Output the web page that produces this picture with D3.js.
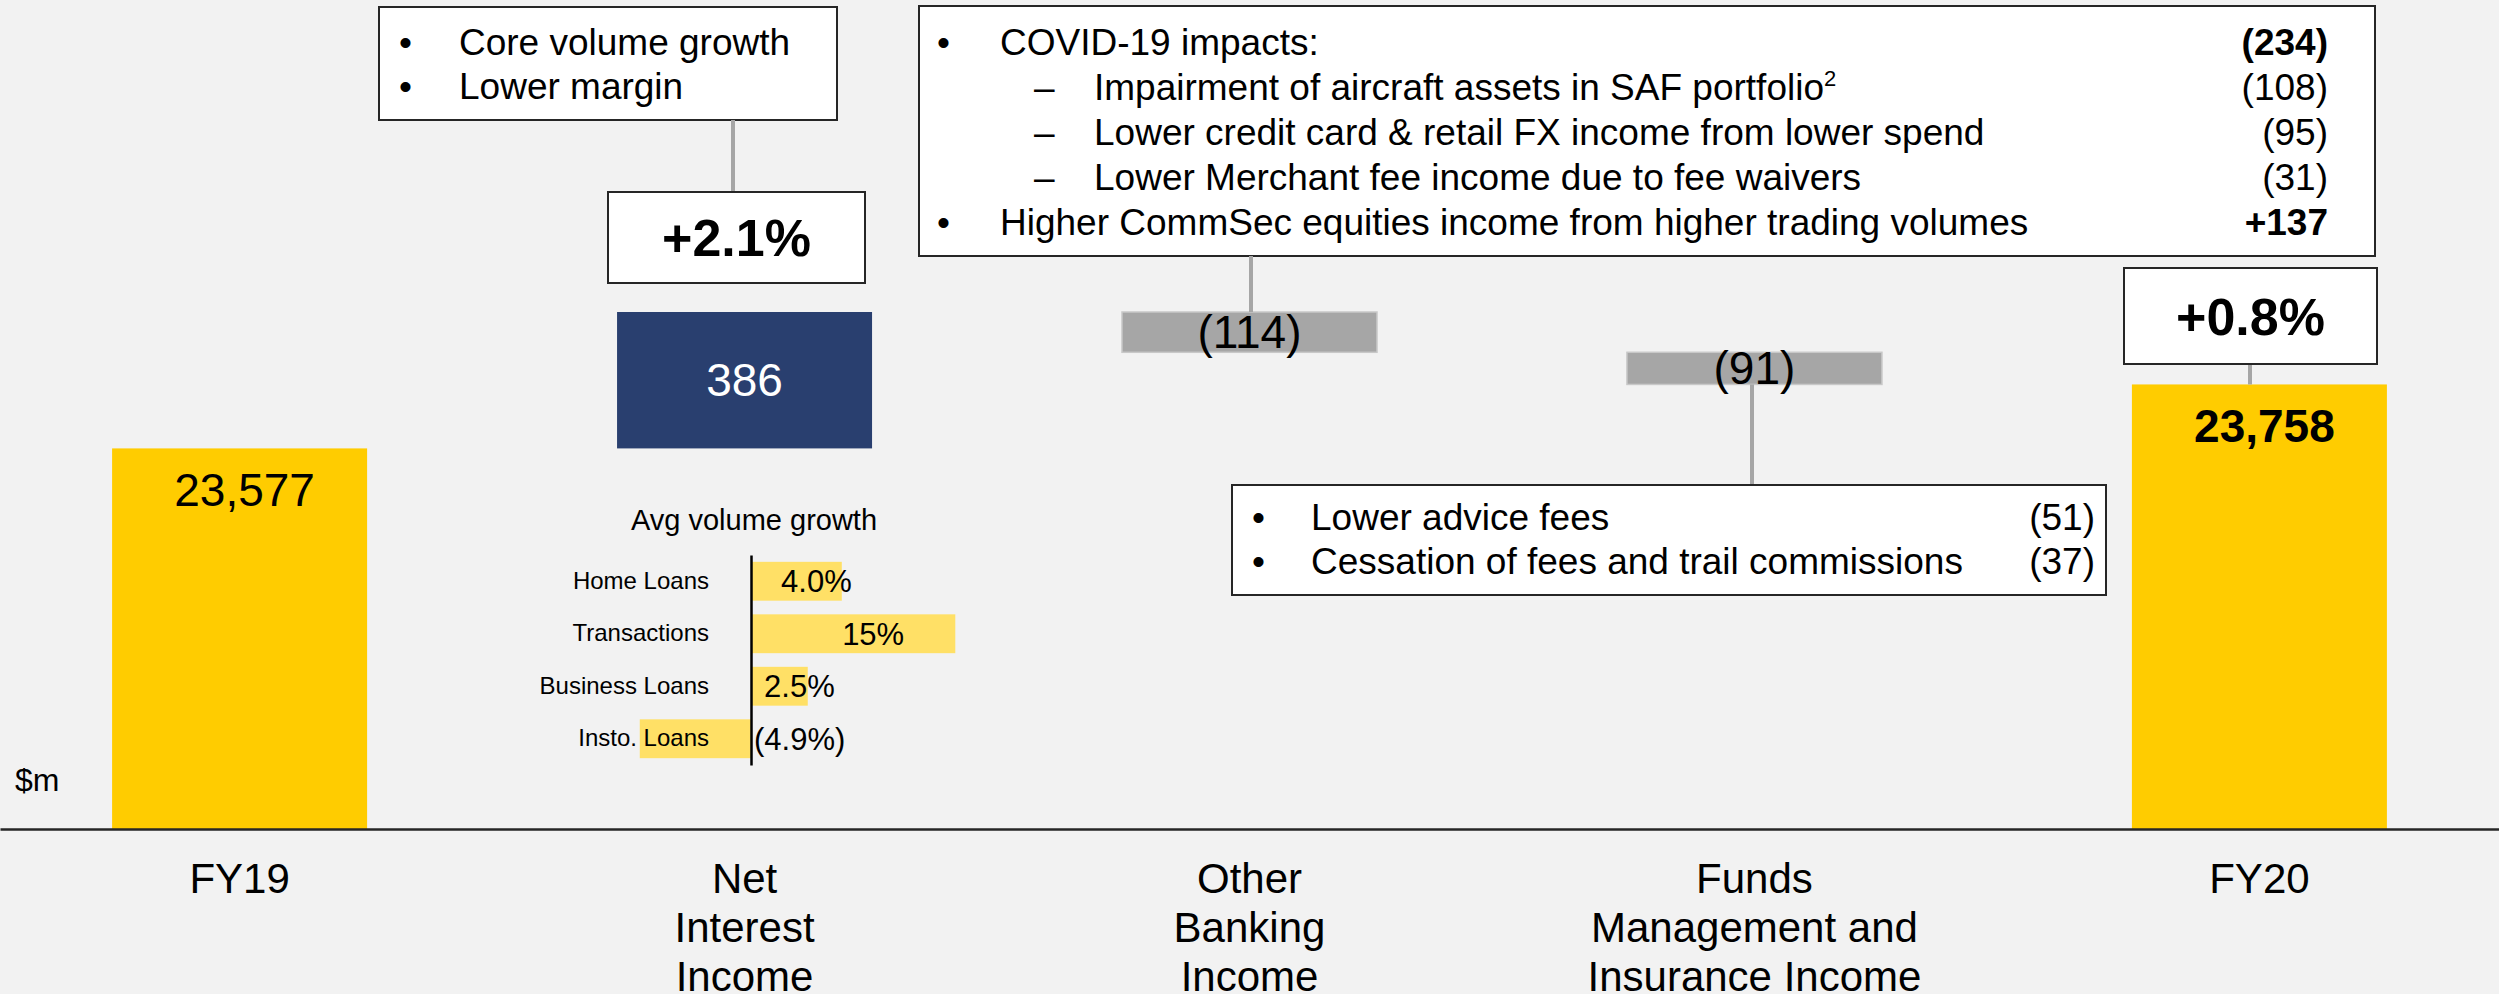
<!DOCTYPE html>
<html>
<head>
<meta charset="utf-8">
<script src="https://cdn.jsdelivr.net/npm/d3@7"></script>
<style>
    body { margin: 0; background: #f2f2f2; }
    svg { display: block; font-family: "Liberation Sans", Arial, sans-serif; }
</style>
</head>
<body>
<div id="container"></div>
<script>
// Canvas size
const width = 2499;
const height = 994;

// Waterfall data ($m)
const categories = ["FY19", "Net Interest Income", "Other Banking Income", "Funds Management and Insurance Income", "FY20"];
const axisLabels = [["FY19"], ["Net", "Interest", "Income"], ["Other", "Banking", "Income"], ["Funds", "Management and", "Insurance Income"], ["FY20"]];
const values = [23577, 386, -114, -91, 23758];
const barKinds = ["total", "up", "down", "down", "total"];
const valueLabels = ["23,577", "386", "(114)", "(91)", "23,758"];
const growthLabels = ["+2.1%", "+0.8%"];

// Inset: average volume growth (%)
const volCategories = ["Home Loans", "Transactions", "Business Loans", "Insto. Loans"];
const volGrowth = [4.0, 15, 2.5, -4.9];
const volLabels = ["4.0%", "15%", "2.5%", "(4.9%)"];

// Commentary
const niiNotes = ["Core volume growth", "Lower margin"];
const obiNotes = [
    { text: "COVID-19 impacts:", value: "(234)", level: 0, bold: true },
    { text: "Impairment of aircraft assets in SAF portfolio", sup: "2", value: "(108)", level: 1 },
    { text: "Lower credit card & retail FX income from lower spend", value: "(95)", level: 1 },
    { text: "Lower Merchant fee income due to fee waivers", value: "(31)", level: 1 },
    { text: "Higher CommSec equities income from higher trading volumes", value: "+137", level: 0, bold: true }
];
const fmiNotes = [
    { text: "Lower advice fees", value: "(51)" },
    { text: "Cessation of fees and trail commissions", value: "(37)" }
];

// Colours
const colors = {
    total: "#ffcc00",
    up: "#293f6f",
    down: "#a6a6a6",
    inset: "#ffe066",
    line: "#a6a6a6",
    border: "#262626"
};

const svg = d3.select("#container")
    .append("svg")
    .attr("width", width)
    .attr("height", height);

svg.append("rect")
    .attr("width", width)
    .attr("height", height)
    .attr("fill", "#f2f2f2");

// Work out the floating bar extents
let running = 0;
const bars = values.map((v, i) => {
    let d;
    if (barKinds[i] == "total") {
        d = { cat: categories[i], kind: "total", top: v, bottom: null };
        running = v;
    } else {
        d = { cat: categories[i], kind: barKinds[i], top: Math.max(running, running + v), bottom: Math.min(running, running + v) };
        running += v;
    }
    d.label = valueLabels[i];
    return d;
});

const x = d3.scaleBand()
    .domain(categories)
    .range([0, width])
    .paddingInner(0.495)
    .paddingOuter(0.222);

const y = d3.scaleLinear()
    .domain([22500, d3.max(bars, d => d.top)])
    .range([829, 312]);

bars.forEach(d => { if (d.bottom === null) d.bottom = y.domain()[0]; });

// Bars
svg.append("g")
    .selectAll("rect")
    .data(bars)
    .enter()
    .append("rect")
    .attr("x", d => x(d.cat))
    .attr("y", d => y(d.top))
    .attr("width", x.bandwidth())
    .attr("height", d => y(d.bottom) - y(d.top))
    .attr("fill", d => colors[d.kind])
    .attr("stroke", d => d.kind == "down" ? "#c8c8c8" : "none")
    .attr("stroke-width", 1.5);

// Bar value labels
svg.append("g")
    .selectAll("text")
    .data(bars)
    .enter()
    .append("text")
    .attr("x", d => x(d.cat) + x.bandwidth() / 2 + (d.kind == "total" ? 5 : 0))
    .attr("y", d => d.kind == "total" ? y(d.top) + 58 : (y(d.top) + y(d.bottom)) / 2)
    .attr("dy", d => d.kind == "total" ? 0 : "0.35em")
    .attr("text-anchor", "middle")
    .attr("font-size", 46)
    .attr("font-weight", (d, i) => i == bars.length - 1 ? "bold" : "normal")
    .attr("fill", d => d.kind == "up" ? "#fff" : "#000")
    .text(d => d.label);

// Category axis
const axis = svg.append("g")
    .attr("transform", `translate(0,${y.range()[0]})`)
    .call(d3.axisBottom(x).tickSize(0).tickSizeOuter(0));

axis.select(".domain")
    .attr("stroke", colors.border)
    .attr("stroke-width", 2.5);

axis.selectAll(".tick text")
    .attr("y", 64)
    .attr("dy", 0)
    .attr("font-size", 42)
    .attr("font-family", "Liberation Sans, Arial, sans-serif")
    .attr("fill", "#000")
    .text(null)
    .each(function (d, i) {
        const t = d3.select(this);
        axisLabels[i].forEach((line, j) => {
            t.append("tspan")
                .attr("x", 0)
                .attr("dy", j == 0 ? 0 : 49)
                .text(line);
        });
    });

svg.append("text")
    .attr("x", 15)
    .attr("y", 791)
    .attr("font-size", 32)
    .text("$m");

// Helpers for the commentary boxes
function box(b) {
    svg.append("rect")
        .attr("x", b.x)
        .attr("y", b.y)
        .attr("width", b.w)
        .attr("height", b.h)
        .attr("fill", "#fff")
        .attr("stroke", colors.border)
        .attr("stroke-width", 2);
}

function connector(cx, y1, y2) {
    svg.append("line")
        .attr("x1", cx)
        .attr("x2", cx)
        .attr("y1", y1)
        .attr("y2", y2)
        .attr("stroke", colors.line)
        .attr("stroke-width", 4);
}

function growthBox(b, label) {
    box(b);
    svg.append("text")
        .attr("x", b.x + b.w / 2)
        .attr("y", b.y + b.h / 2)
        .attr("dy", "0.36em")
        .attr("text-anchor", "middle")
        .attr("font-size", 52)
        .attr("font-weight", "bold")
        .text(label);
}

// Net interest income commentary
const niiBox = { x: 379, y: 7, w: 458, h: 113 };
box(niiBox);
svg.append("g")
    .attr("font-size", 37)
    .selectAll("g")
    .data(niiNotes)
    .enter()
    .append("g")
    .each(function (d, i) {
        const g = d3.select(this);
        g.append("text").attr("x", 399).attr("y", 55 + i * 44).text("•");
        g.append("text").attr("x", 459).attr("y", 55 + i * 44).text(d);
    });

const niiGrowth = { x: 608, y: 192, w: 257, h: 91 };
connector(733, niiBox.y + niiBox.h, niiGrowth.y);
growthBox(niiGrowth, growthLabels[0]);

// Other banking income commentary
const obiBox = { x: 919, y: 6, w: 1456, h: 250 };
box(obiBox);
connector(1251, obiBox.y + obiBox.h, y(bars[2].top));
svg.append("g")
    .attr("font-size", 37)
    .selectAll("g")
    .data(obiNotes)
    .enter()
    .append("g")
    .each(function (d, i) {
        const g = d3.select(this);
        const by = 55 + i * 45;
        g.append("text")
            .attr("x", d.level == 0 ? 937 : 1034)
            .attr("y", by)
            .text(d.level == 0 ? "•" : "–");
        const t = g.append("text")
            .attr("x", d.level == 0 ? 1000 : 1094)
            .attr("y", by)
            .text(d.text);
        if (d.sup) {
            t.append("tspan")
                .attr("font-size", 22)
                .attr("dy", -14)
                .text(d.sup);
        }
        g.append("text")
            .attr("x", 2328)
            .attr("y", by)
            .attr("text-anchor", "end")
            .attr("font-weight", d.bold ? "bold" : "normal")
            .text(d.value);
    });

// Funds management commentary
const fmiBox = { x: 1232, y: 485, w: 874, h: 110 };
connector(1752, y(bars[3].bottom), fmiBox.y);
box(fmiBox);
svg.append("g")
    .attr("font-size", 37)
    .selectAll("g")
    .data(fmiNotes)
    .enter()
    .append("g")
    .each(function (d, i) {
        const g = d3.select(this);
        const by = 530 + i * 44;
        g.append("text").attr("x", 1252).attr("y", by).text("•");
        g.append("text").attr("x", 1311).attr("y", by).text(d.text);
        g.append("text").attr("x", 2095).attr("y", by).attr("text-anchor", "end").text(d.value);
    });

// FY20 growth
const fyGrowth = { x: 2124, y: 268, w: 253, h: 96 };
connector(2250, fyGrowth.y + fyGrowth.h, y(bars[4].top));
growthBox(fyGrowth, growthLabels[1]);

// Inset: average volume growth
const xs = d3.scaleLinear()
    .domain([-5, 9])
    .range([751 - 5 * 22.7, 751 + 9 * 22.7])
    .clamp(true);

const ys = d3.scaleBand()
    .domain(volCategories)
    .range([555, 765])
    .paddingInner(0.26)
    .paddingOuter(0.13);

const inset = svg.append("g");

inset.append("text")
    .attr("x", 754)
    .attr("y", 530)
    .attr("text-anchor", "middle")
    .attr("font-size", 29)
    .text("Avg volume growth");

inset.append("g")
    .selectAll("rect")
    .data(volGrowth)
    .enter()
    .append("rect")
    .attr("x", d => xs(Math.min(0, d)))
    .attr("y", (d, i) => ys(volCategories[i]))
    .attr("width", d => Math.abs(xs(d) - xs(0)))
    .attr("height", ys.bandwidth())
    .attr("fill", colors.inset);

const yAxis = inset.append("g")
    .attr("transform", `translate(${xs(0)},0)`)
    .call(d3.axisLeft(ys).tickSize(0).tickSizeOuter(0).tickPadding(42));

yAxis.select(".domain")
    .attr("stroke", "#000")
    .attr("stroke-width", 2.5);

yAxis.selectAll(".tick text")
    .attr("font-size", 24)
    .attr("font-family", "Liberation Sans, Arial, sans-serif")
    .attr("fill", "#000");

inset.append("g")
    .selectAll("text")
    .data(volGrowth)
    .enter()
    .append("text")
    .attr("x", d => d >= 0 ? (xs(0) + xs(d)) / 2 + 20 : xs(0) + 3)
    .attr("y", (d, i) => ys(volCategories[i]) + ys.bandwidth() / 2)
    .attr("dy", "0.36em")
    .attr("text-anchor", d => d >= 0 ? "middle" : "start")
    .attr("font-size", 31)
    .text((d, i) => volLabels[i]);
</script>
</body>
</html>
